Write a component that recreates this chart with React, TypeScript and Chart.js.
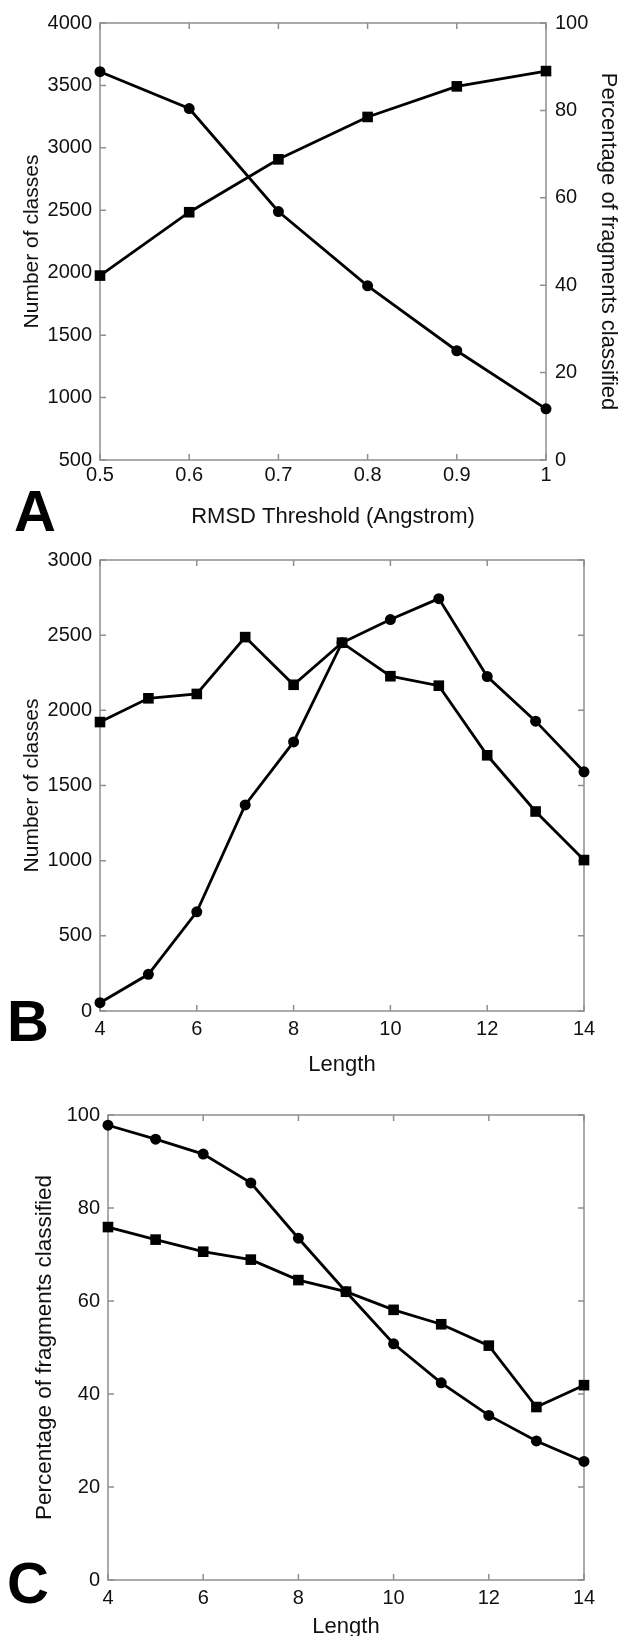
import React, { useEffect, useRef } from "react";
import { Chart, registerables } from "chart.js";

Chart.register(...registerables);

const FONT = "'Liberation Sans', Arial, Helvetica, sans-serif";

// ---------- Panel A data ----------
const thresholdsA = [0.5, 0.6, 0.7, 0.8, 0.9, 1.0];
const classesA = [3610, 3315, 2490, 1895, 1375, 910];
const percentA = [42.2, 56.7, 68.8, 78.5, 85.5, 89.0];
const xTickValuesA = [0.5, 0.6, 0.7, 0.8, 0.9, 1.0];
const xTickLabelsA = ["0.5", "0.6", "0.7", "0.8", "0.9", "1"];
const yTicksA = [500, 1000, 1500, 2000, 2500, 3000, 3500, 4000];
const y1TicksA = [0, 20, 40, 60, 80, 100];

// ---------- Panel B data ----------
const lengths = [4, 5, 6, 7, 8, 9, 10, 11, 12, 13, 14];
const squaresB = [1922, 2080, 2109, 2487, 2170, 2450, 2227, 2164, 1701, 1327, 1004];
const circlesB = [55, 244, 660, 1371, 1790, 2450, 2604, 2743, 2225, 1928, 1591];
const xTicksLength = [4, 6, 8, 10, 12, 14];
const yTicksB = [0, 500, 1000, 1500, 2000, 2500, 3000];

// ---------- Panel C data ----------
const circlesC = [97.8, 94.8, 91.6, 85.4, 73.5, 62.0, 50.8, 42.4, 35.4, 29.9, 25.5];
const squaresC = [75.9, 73.2, 70.6, 68.9, 64.5, 62.0, 58.1, 55.0, 50.4, 37.2, 41.9];
const yTicksC = [0, 20, 40, 60, 80, 100];

const PAGE_W = 624;
const PAGE_H = 1636;
const TICK_SIZE = 20;
const INNER_TICK = 6;

const framePlugin = {
  id: "frameTicks",
  beforeDatasetsDraw(chart: any) {
    const { ctx, chartArea } = chart;
    const { left, right, top, bottom } = chartArea;
    ctx.save();
    ctx.strokeStyle = "#8f8f8f";
    ctx.lineWidth = 1.5;
    ctx.strokeRect(left, top, right - left, bottom - top);
    ctx.beginPath();
    const xs = chart.scales.x;
    xs.ticks.forEach((t: any) => {
      const px = xs.getPixelForValue(t.value);
      ctx.moveTo(px, bottom);
      ctx.lineTo(px, bottom - INNER_TICK);
      ctx.moveTo(px, top);
      ctx.lineTo(px, top + INNER_TICK);
    });
    const ys = chart.scales.y;
    const y1 = chart.scales.y1;
    ys.ticks.forEach((t: any) => {
      const py = ys.getPixelForValue(t.value);
      ctx.moveTo(left, py);
      ctx.lineTo(left + INNER_TICK, py);
      if (!y1) {
        ctx.moveTo(right, py);
        ctx.lineTo(right - INNER_TICK, py);
      }
    });
    if (y1) {
      y1.ticks.forEach((t: any) => {
        const py = y1.getPixelForValue(t.value);
        ctx.moveTo(right, py);
        ctx.lineTo(right - INNER_TICK, py);
      });
    }
    ctx.stroke();
    ctx.restore();
  },
};

type SeriesSpec = { xs: number[]; ys: number[]; shape: "circle" | "rect"; axis?: string };

type PanelSpec = {
  canvasTop: number;
  canvasH: number;
  plotLeft: number;
  plotRight: number;
  plotTop: number;
  plotBottom: number;
  leftTitle: string;
  leftTitleX: number;
  leftTitleSize: number;
  rightTitle?: string;
  rightTitleX?: number;
  rightTitleSize?: number;
  xLabelY: number;
  xTitle: string;
  xTitleY: number;
  xTitleX?: number;
  xTitleSize: number;
  xMin: number;
  xMax: number;
  xTickValues: number[];
  xTickLabels: string[];
  yMin: number;
  yMax: number;
  yTicks: number[];
  y1Ticks?: number[];
  series: SeriesSpec[];
};

function buildConfig(s: PanelSpec): any {
  const tickHalf = (TICK_SIZE * 1.2) / 2;
  const lHalf = (s.leftTitleSize * 1.2) / 2;
  const padLeft = s.leftTitleX - lHalf;
  const yWidth = s.plotLeft - padLeft;
  let padRight = PAGE_W - s.plotRight;
  let y1Width = 0;
  if (s.rightTitle) {
    const rHalf = ((s.rightTitleSize || 22) * 1.2) / 2;
    const rEdge = (s.rightTitleX || 0) + rHalf;
    padRight = PAGE_W - rEdge;
    y1Width = rEdge - s.plotRight;
  }
  const padTop = s.plotTop - s.canvasTop;
  const xHalf = (s.xTitleSize * 1.2) / 2;
  const xHeight = s.xTitleY + xHalf - s.plotBottom;
  const padBottom = Math.max(0, s.canvasTop + s.canvasH - (s.xTitleY + xHalf));
  const xTickPad = s.xLabelY - s.plotBottom - tickHalf;
  const customXTitle = typeof s.xTitleX === "number";

  const xTitlePlugin = {
    id: "xTitleText",
    afterDraw(chart: any) {
      if (!customXTitle) return;
      const { ctx } = chart;
      ctx.save();
      ctx.fillStyle = "#111";
      ctx.font = `${s.xTitleSize}px ${FONT}`;
      ctx.textAlign = "center";
      ctx.textBaseline = "middle";
      ctx.fillText(s.xTitle, s.xTitleX as number, s.xTitleY - s.canvasTop);
      ctx.restore();
    },
  };

  const tickFont = { family: FONT, size: TICK_SIZE };
  const datasets = s.series.map((ser) => ({
    data: ser.xs.map((x, i) => ({ x, y: ser.ys[i] })),
    yAxisID: ser.axis || "y",
    borderColor: "#000",
    borderWidth: 2.8,
    backgroundColor: "#000",
    pointBackgroundColor: "#000",
    pointBorderColor: "#000",
    pointBorderWidth: 0,
    pointStyle: ser.shape,
    pointRadius: ser.shape === "rect" ? 7.5 : 5.5,
    pointHoverRadius: ser.shape === "rect" ? 7.5 : 5.5,
    tension: 0,
    clip: false,
    fill: false,
  }));

  const scales: any = {
    x: {
      type: "linear",
      min: s.xMin,
      max: s.xMax,
      grid: { display: false, drawTicks: false },
      border: { display: false },
      afterBuildTicks: (sc: any) => {
        sc.ticks = s.xTickValues.map((v) => ({ value: v }));
      },
      afterFit: (sc: any) => {
        sc.height = xHeight;
      },
      ticks: {
        color: "#111",
        font: tickFont,
        padding: xTickPad,
        maxRotation: 0,
        autoSkip: false,
        callback: (_v: any, i: number) => s.xTickLabels[i],
      },
      title: {
        display: !customXTitle,
        text: s.xTitle,
        color: "#111",
        font: { family: FONT, size: s.xTitleSize },
        padding: 0,
      },
    },
    y: {
      type: "linear",
      position: "left",
      min: s.yMin,
      max: s.yMax,
      grid: { display: false, drawTicks: false },
      border: { display: false },
      afterBuildTicks: (sc: any) => {
        sc.ticks = s.yTicks.map((v) => ({ value: v }));
      },
      afterFit: (sc: any) => {
        sc.width = yWidth;
      },
      ticks: {
        color: "#111",
        font: tickFont,
        padding: 8,
        autoSkip: false,
        callback: (v: any) => String(v),
      },
      title: {
        display: true,
        text: s.leftTitle,
        color: "#111",
        font: { family: FONT, size: s.leftTitleSize },
        padding: 0,
      },
    },
  };
  if (s.rightTitle && s.y1Ticks) {
    const y1t = s.y1Ticks;
    scales.y1 = {
      type: "linear",
      position: "right",
      min: y1t[0],
      max: y1t[y1t.length - 1],
      grid: { display: false, drawTicks: false },
      border: { display: false },
      afterBuildTicks: (sc: any) => {
        sc.ticks = y1t.map((v) => ({ value: v }));
      },
      afterFit: (sc: any) => {
        sc.width = y1Width;
      },
      ticks: {
        color: "#111",
        font: tickFont,
        padding: 9,
        autoSkip: false,
        callback: (v: any) => String(v),
      },
      title: {
        display: true,
        text: s.rightTitle,
        color: "#111",
        font: { family: FONT, size: s.rightTitleSize || 22 },
        padding: 0,
      },
    };
  }

  return {
    type: "line",
    data: { datasets },
    options: {
      responsive: false,
      maintainAspectRatio: false,
      animation: false,
      devicePixelRatio: 1,
      layout: {
        padding: { top: padTop, left: padLeft, right: padRight, bottom: padBottom },
      },
      plugins: { legend: { display: false }, tooltip: { enabled: false } },
      scales,
      events: [],
    },
    plugins: [framePlugin, xTitlePlugin],
  };
}

const panelA: PanelSpec = {
  canvasTop: 0,
  canvasH: 545,
  plotLeft: 100,
  plotRight: 546,
  plotTop: 23,
  plotBottom: 460,
  leftTitle: "Number of classes",
  leftTitleX: 32,
  leftTitleSize: 21,
  rightTitle: "Percentage of fragments classified",
  rightTitleX: 608,
  rightTitleSize: 22,
  xLabelY: 475,
  xTitle: "RMSD Threshold (Angstrom)",
  xTitleY: 517,
  xTitleX: 333,
  xTitleSize: 22,
  xMin: 0.5,
  xMax: 1.0,
  xTickValues: xTickValuesA,
  xTickLabels: xTickLabelsA,
  yMin: 500,
  yMax: 4000,
  yTicks: yTicksA,
  y1Ticks: y1TicksA,
  series: [
    { xs: thresholdsA, ys: classesA, shape: "circle", axis: "y" },
    { xs: thresholdsA, ys: percentA, shape: "rect", axis: "y1" },
  ],
};

const panelB: PanelSpec = {
  canvasTop: 540,
  canvasH: 550,
  plotLeft: 100,
  plotRight: 584,
  plotTop: 559,
  plotBottom: 1011,
  leftTitle: "Number of classes",
  leftTitleX: 32,
  leftTitleSize: 21,
  xLabelY: 1029,
  xTitle: "Length",
  xTitleY: 1065,
  xTitleSize: 22,
  xMin: 4,
  xMax: 14,
  xTickValues: xTicksLength,
  xTickLabels: xTicksLength.map(String),
  yMin: 0,
  yMax: 3000,
  yTicks: yTicksB,
  series: [
    { xs: lengths, ys: squaresB, shape: "rect" },
    { xs: lengths, ys: circlesB, shape: "circle" },
  ],
};

const panelC: PanelSpec = {
  canvasTop: 1095,
  canvasH: 560,
  plotLeft: 108,
  plotRight: 584,
  plotTop: 1115,
  plotBottom: 1580,
  leftTitle: "Percentage of fragments classified",
  leftTitleX: 45,
  leftTitleSize: 22.5,
  xLabelY: 1598,
  xTitle: "Length",
  xTitleY: 1627,
  xTitleSize: 22,
  xMin: 4,
  xMax: 14,
  xTickValues: xTicksLength,
  xTickLabels: xTicksLength.map(String),
  yMin: 0,
  yMax: 100,
  yTicks: yTicksC,
  series: [
    { xs: lengths, ys: circlesC, shape: "circle" },
    { xs: lengths, ys: squaresC, shape: "rect" },
  ],
};

function Panel({ spec }: { spec: PanelSpec }) {
  const ref = useRef<HTMLCanvasElement>(null);
  useEffect(() => {
    if (!ref.current) return;
    const chart = new Chart(ref.current, buildConfig(spec));
    return () => chart.destroy();
  }, [spec]);
  return (
    <canvas
      ref={ref}
      width={PAGE_W}
      height={spec.canvasH}
      style={{
        position: "absolute",
        left: 0,
        top: spec.canvasTop,
        width: PAGE_W,
        height: spec.canvasH,
      }}
    />
  );
}

function PanelLetter({ text, left, capTop }: { text: string; left: number; capTop: number }) {
  return (
    <div
      style={{
        position: "absolute",
        left,
        top: capTop - 7.6,
        fontFamily: FONT,
        fontWeight: "bold",
        fontSize: 58,
        lineHeight: "58px",
        color: "#000",
        margin: 0,
      }}
    >
      {text}
    </div>
  );
}

export default function App() {
  return (
    <div
      style={{
        position: "absolute",
        left: 0,
        top: 0,
        width: PAGE_W,
        height: PAGE_H,
        background: "#fff",
        overflow: "hidden",
      }}
    >
      <Panel spec={panelA} />
      <Panel spec={panelB} />
      <Panel spec={panelC} />
      <PanelLetter text="A" left={14} capTop={490} />
      <PanelLetter text="B" left={7} capTop={1000} />
      <PanelLetter text="C" left={7} capTop={1562} />
    </div>
  );
}
